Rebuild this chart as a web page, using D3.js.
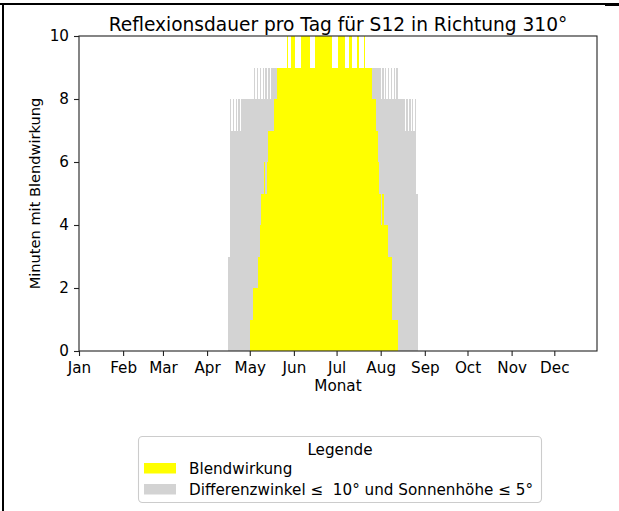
<!DOCTYPE html>
<html lang="de">
<head>
<meta charset="utf-8">
<title>Reflexionsdauer pro Tag</title>
<script src="https://d3js.org/d3.v7.min.js"></script>
<style>
  body { margin: 0; background: #fff; }
  text { font-family: "DejaVu Sans", sans-serif; fill: #000; }
</style>
</head>
<body>
<script>
// first day of the data arrays (one value per day from here on)
var firstDay = "2023-04-15";

// Differenzwinkel <= 10° und Sonnenhöhe <= 5° (minutes per day)
var greyMinutes = [
  0, 3, 8, 7, 8, 7, 8, 7, 8, 7,
  8, 8, 8, 8, 8, 8, 8, 8, 8, 9,
  8, 9, 8, 9, 8, 9, 8, 9, 8, 9,
  8, 9, 9, 9, 9, 9, 9, 9, 9, 9,
  9, 9, 9, 9, 9, 9, 9, 9, 9, 9,
  9, 9, 9, 9, 9, 9, 9, 9, 9, 9,
  9, 9, 9, 9, 9, 9, 9, 9, 9, 9,
  9, 9, 9, 9, 9, 9, 9, 9, 9, 9,
  9, 9, 9, 9, 9, 9, 9, 9, 9, 9,
  9, 9, 9, 9, 9, 9, 9, 9, 9, 9,
  9, 9, 9, 9, 9, 9, 9, 9, 8, 9,
  8, 9, 8, 9, 8, 9, 8, 9, 8, 9,
  8, 8, 8, 8, 8, 7, 8, 7, 8, 7,
  8, 7, 8, 5, 0
];

// Blendwirkung (minutes per day)
var yellowMinutes = [
  0, 0, 0, 0, 0, 0, 0, 0, 0, 0,
  0, 0, 0, 0, 0, 0, 1, 1, 2, 2,
  2, 2, 3, 4, 5, 5, 6, 5, 6, 7,
  7, 7, 7, 8, 8, 9, 9, 9, 9, 9,
  9, 9, 10, 9, 9, 10, 10, 10, 9, 9,
  9, 9, 10, 10, 10, 10, 10, 10, 9, 9,
  9, 9, 10, 10, 10, 10, 10, 10, 10, 10,
  10, 10, 10, 10, 9, 9, 9, 9, 10, 10,
  10, 10, 10, 9, 9, 9, 10, 10, 9, 9,
  9, 10, 10, 9, 9, 9, 10, 9, 9, 9,
  9, 9, 8, 8, 8, 7, 6, 5, 4, 5,
  4, 4, 4, 3, 3, 3, 1, 1, 1, 1,
  0, 0, 0, 0, 0, 0, 0, 0, 0, 0,
  0, 0, 0, 0, 0
];

var monthLabels = ["Jan", "Feb", "Mar", "Apr", "May", "Jun", "Jul", "Aug", "Sep", "Oct", "Nov", "Dec"];
var yTicks = [0, 2, 4, 6, 8, 10];
var legendLabels = ["Blendwirkung", "Differenzwinkel \u2264  10\u00b0 und Sonnenh\u00f6he \u2264 5\u00b0"];

var width = 619, height = 511;
var margin = {left: 79, right: 22, top: 36, bottom: 160};

var svg = d3.select("body").append("svg")
    .attr("width", width)
    .attr("height", height);

// outer frame (only top and left edge show)
svg.append("rect").attr("x", 0).attr("y", 3).attr("width", width).attr("height", 2).attr("fill", "#000");
svg.append("rect").attr("x", 605).attr("y", 3).attr("width", 14).attr("height", 3).attr("fill", "#000");
svg.append("rect").attr("x", 2).attr("y", 3).attr("width", 2).attr("height", height).attr("fill", "#000");

var parse = d3.timeParse("%Y-%m-%d");
var start = parse(firstDay);

var x = d3.scaleTime()
    .domain([new Date(2023, 0, 1), new Date(2023, 11, 31)])
    .range([margin.left, width - margin.right]);

var y = d3.scaleLinear()
    .domain([0, 10])
    .range([height - margin.bottom, margin.top]);

function days(values) {
  return values.map(function(v, i) {
    return {day: d3.timeDay.offset(start, i), value: v};
  }).filter(function(d) { return d.value > 0; });
}

function drawBars(values, color) {
  svg.append("g")
    .selectAll("rect")
    .data(days(values))
    .enter()
    .append("rect")
    .attr("x", function(d) { return x(d.day); })
    .attr("width", function(d) { return x(d3.timeDay.offset(d.day, 1)) - x(d.day); })
    .attr("y", function(d) { return y(d.value); })
    .attr("height", function(d) { return y(0) - y(d.value); })
    .attr("fill", color)
    .attr("shape-rendering", "crispEdges");
}

drawBars(greyMinutes, "#d3d3d3");
drawBars(yellowMinutes, "#ffff00");

// axes
var months = monthLabels.map(function(m, i) { return new Date(2023, i, 1); });

var xAxis = svg.append("g")
    .attr("transform", "translate(0," + y(0) + ")")
    .call(d3.axisBottom(x)
      .tickValues(months)
      .tickFormat(function(d, i) { return monthLabels[i]; })
      .tickSizeInner(5)
      .tickSizeOuter(0)
      .tickPadding(5));

var yAxis = svg.append("g")
    .attr("transform", "translate(" + margin.left + ",0)")
    .call(d3.axisLeft(y)
      .tickValues(yTicks)
      .tickSizeInner(5)
      .tickSizeOuter(0)
      .tickPadding(5));

[xAxis, yAxis].forEach(function(a) {
  a.selectAll("text").attr("font-size", "15.2px").attr("font-family", "DejaVu Sans").attr("fill", "#000");
  a.selectAll("line").attr("stroke", "#222").attr("stroke-width", 1.1);
  a.select(".domain").remove();
});
xAxis.selectAll("text").attr("dy", "0.78em");

// spines
svg.append("rect")
    .attr("x", margin.left)
    .attr("y", margin.top)
    .attr("width", width - margin.right - margin.left)
    .attr("height", y(0) - margin.top)
    .attr("fill", "none")
    .attr("stroke", "#222")
    .attr("stroke-width", 1.1);

// titles
svg.append("text")
    .attr("x", (margin.left + width - margin.right) / 2)
    .attr("y", 31)
    .attr("text-anchor", "middle")
    .attr("font-size", "18.6px")
    .text("Reflexionsdauer pro Tag f\u00fcr S12 in Richtung 310\u00b0");

svg.append("text")
    .attr("x", (margin.left + width - margin.right) / 2)
    .attr("y", 391)
    .attr("text-anchor", "middle")
    .attr("font-size", "15.2px")
    .text("Monat");

svg.append("text")
    .attr("transform", "translate(39.5," + ((margin.top + y(0)) / 2) + ") rotate(-90)")
    .attr("text-anchor", "middle")
    .attr("font-size", "14.6px")
    .text("Minuten mit Blendwirkung");

// legend
var legend = svg.append("g");
legend.append("rect")
    .attr("x", 138.5).attr("y", 436.5)
    .attr("width", 403).attr("height", 66)
    .attr("rx", 4)
    .attr("fill", "#fff")
    .attr("stroke", "#cccccc")
    .attr("stroke-width", 1.1);

legend.append("text")
    .attr("x", 340).attr("y", 454.5)
    .attr("text-anchor", "middle")
    .attr("font-size", "15.2px")
    .text("Legende");

var legendColors = ["#ffff00", "#d3d3d3"];
legendLabels.forEach(function(label, i) {
  legend.append("rect")
    .attr("x", 144).attr("y", 463 + i * 21)
    .attr("width", 32).attr("height", 10.5)
    .attr("fill", legendColors[i]);
  legend.append("text")
    .attr("x", 189).attr("y", 473.5 + i * 21)
    .attr("font-size", "15.2px")
    .style("white-space", "pre")
    .text(label);
});
</script>
</body>
</html>
